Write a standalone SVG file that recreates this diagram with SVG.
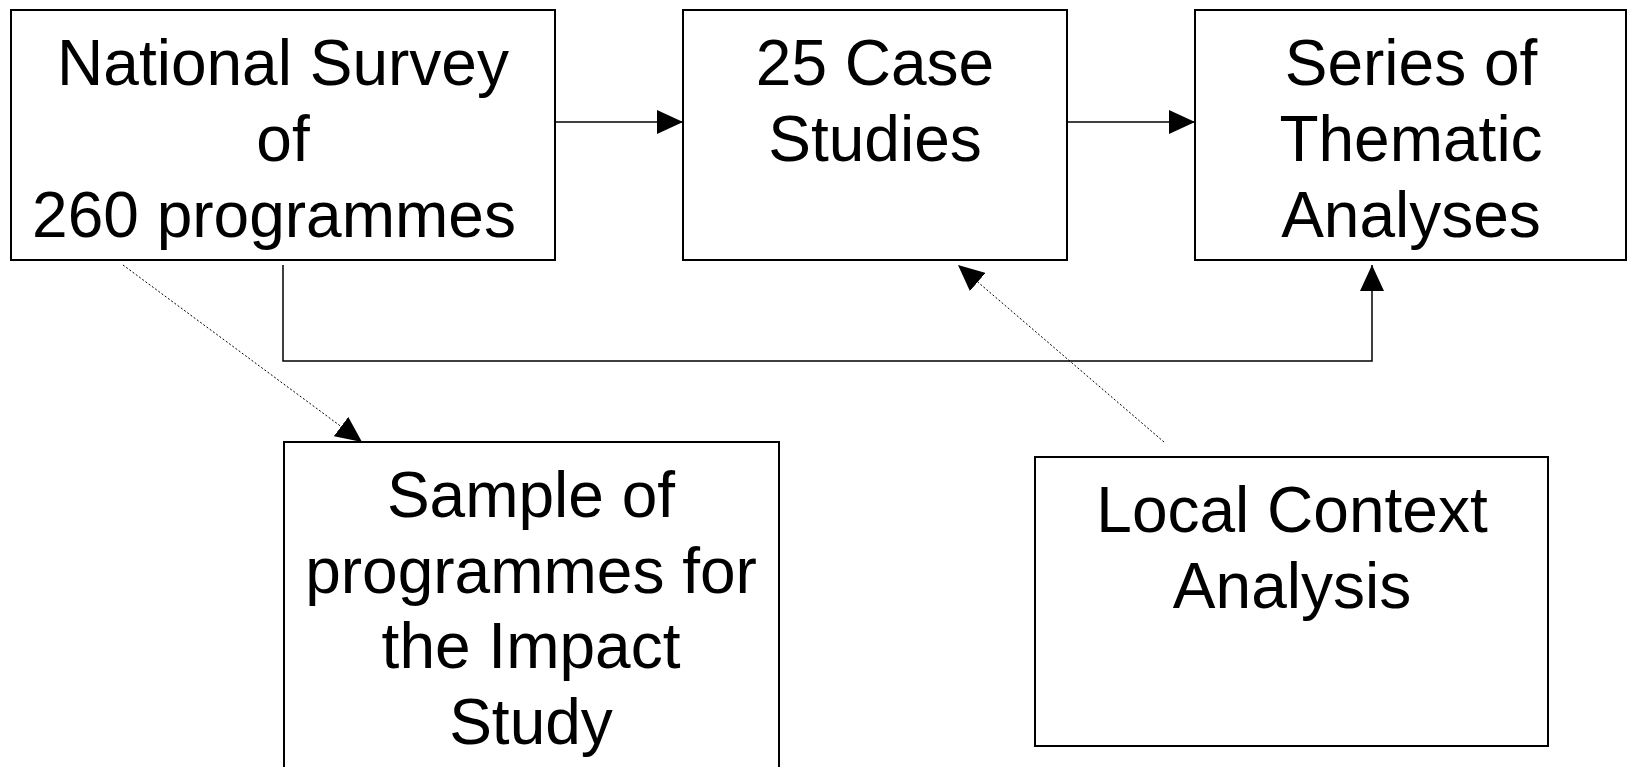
<svg xmlns="http://www.w3.org/2000/svg" width="1630" height="767" viewBox="0 0 1630 767">
<style>
.box{fill:#fff;stroke:#000;stroke-width:2}
.t{font-family:"Liberation Sans",Arial,sans-serif;font-size:64px;fill:#000;text-anchor:middle}
.c{fill:none;stroke:#000;stroke-width:1.5}
.d{fill:none;stroke:#000;stroke-width:1;stroke-dasharray:2,2}
</style>
<defs>
<marker id="ah" markerUnits="userSpaceOnUse" markerWidth="26" markerHeight="24" refX="26" refY="12" orient="auto" viewBox="0 0 26 24">
<path d="M0,0 L26,12 L0,24 z" fill="#000"/>
</marker>
</defs>
<rect width="1630" height="767" fill="#fff"/>
<g id="n1"><rect class="box" x="11" y="10" width="544" height="250"/>
<text class="t" x="283"><tspan x="283" y="85">National Survey</tspan><tspan x="283" y="161">of</tspan><tspan x="274" y="237">260 programmes</tspan></text></g>
<g id="n2"><rect class="box" x="683" y="10" width="384" height="250"/>
<text class="t"><tspan x="875" y="85">25 Case</tspan><tspan x="875" y="161">Studies</tspan></text></g>
<g id="n3"><rect class="box" x="1195" y="10" width="431" height="250"/>
<text class="t"><tspan x="1411" y="85">Series of</tspan><tspan x="1411" y="161">Thematic</tspan><tspan x="1411" y="237">Analyses</tspan></text></g>
<g id="n4"><rect class="box" x="284" y="442" width="495" height="360"/>
<text class="t"><tspan x="531" y="517">Sample of</tspan><tspan x="531" y="593">programmes for</tspan><tspan x="531" y="668">the Impact</tspan><tspan x="531" y="744">Study</tspan></text></g>
<g id="n5"><rect class="box" x="1035" y="457" width="513" height="289"/>
<text class="t"><tspan x="1292" y="532">Local Context</tspan><tspan x="1292" y="608">Analysis</tspan></text></g>
<g id="connectors">
<line class="c" x1="555" y1="122" x2="683" y2="122" marker-end="url(#ah)"/>
<line class="c" x1="1067" y1="122" x2="1195" y2="122" marker-end="url(#ah)"/>
<polyline class="c" points="283,265 283,361 1372,361 1372,265" marker-end="url(#ah)"/>
<line class="d" x1="123" y1="265" x2="362" y2="442" marker-end="url(#ah)"/>
<line class="d" x1="1164" y1="442" x2="958" y2="265" marker-end="url(#ah)"/>
</g>
</svg>
